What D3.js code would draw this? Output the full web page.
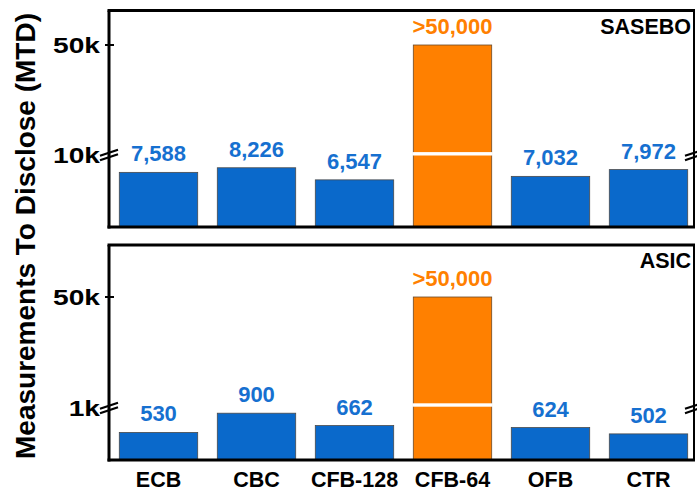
<!DOCTYPE html>
<html>
<head>
<meta charset="utf-8">
<script src="https://cdn.jsdelivr.net/npm/d3@7"></script>
<style>
  html, body { margin: 0; padding: 0; background: #fff; }
  svg { display: block; font-family: "Liberation Sans", Arial, Helvetica, sans-serif; font-weight: bold; }
</style>
</head>
<body>
<svg id="chart" width="697" height="495"></svg>
<script>
// Block cipher modes of operation
const modes = ["ECB", "CBC", "CFB-128", "CFB-64", "OFB", "CTR"];
// Measurements to disclose, per platform
const saseboMTD = [7588, 8226, 6547, 50000, 7032, 7972];
const asicMTD = [530, 900, 662, 50000, 624, 502];
// Modes whose key was not disclosed within the measurement budget
const exceedsBudget = [false, false, false, true, false, false];
// Axis ticks (the first tick of each panel sits on the axis break)
const saseboTicks = [10000, 50000];
const saseboTickLabels = ["10k", "50k"];
const asicTicks = [1000, 50000];
const asicTickLabels = ["1k", "50k"];

const BLUE = "#0a69cb";
const ORANGE = "#ff8000";
const LABEL_BLUE = "#1670d0";

const svg = d3.select("#chart");

const x = d3.scaleBand()
  .domain(modes)
  .range([109.5, 697.5])
  .paddingInner(0.2)
  .paddingOuter(0.1);

const fmt = d3.format(",");

const left = 109, right = 694;

function panel(cfg) {
  const g = svg.append("g");
  // Broken value axis: a lower linear segment below the break and an upper one above it
  const lower = d3.scaleLinear().domain([0, cfg.ticks[0]]).range([cfg.bottom, cfg.breakY]);
  const upper = d3.scaleLinear().domain([cfg.ticks[0], cfg.ticks[1]]).range([cfg.breakY, cfg.topTickY]);
  const y = v => v <= cfg.ticks[0] ? lower(v) : upper(v);

  const rows = modes.map((m, i) => ({ mode: m, value: cfg.values[i], over: exceedsBudget[i] }));

  // bars
  g.selectAll("rect.bar").data(rows).join("rect")
    .attr("class", "bar")
    .attr("x", d => x(d.mode)).attr("width", x.bandwidth())
    .attr("y", d => y(d.value)).attr("height", d => cfg.bottom - y(d.value))
    .attr("fill", d => d.over ? ORANGE : BLUE)
    .attr("stroke", d => d.over ? "#6a4a2a" : "#4a4a4a")
    .attr("stroke-width", 0.8);

  // white cut through bars that cross the break
  g.selectAll("rect.cut").data(rows.filter(d => d.value > cfg.ticks[0])).join("rect")
    .attr("class", "cut")
    .attr("x", d => x(d.mode) - 1).attr("width", x.bandwidth() + 2)
    .attr("y", cfg.breakY - cfg.gapShift - 1.7).attr("height", 3.4)
    .attr("fill", "#fff");

  // value labels
  g.selectAll("text.val").data(rows).join("text")
    .attr("class", "val")
    .attr("x", d => x(d.mode) + x.bandwidth() / 2)
    .attr("y", d => y(d.value) - 11)
    .attr("text-anchor", "middle")
    .attr("font-size", 22)
    .attr("fill", d => d.over ? ORANGE : LABEL_BLUE)
    .text(d => (d.over ? ">" : "") + fmt(d.value));

  // frame
  const line = (x1, y1, x2, y2, w) => g.append("line")
    .attr("x1", x1).attr("y1", y1).attr("x2", x2).attr("y2", y2)
    .attr("stroke", "#000").attr("stroke-width", w);
  line(left - 1.5, cfg.top, right + 1, cfg.top, 3);
  line(right, cfg.top, right, cfg.bottom, 2);
  line(left, cfg.top, left, cfg.bottom + 1.5, 3);
  line(left - 1.5, cfg.bottom, right + 1, cfg.bottom, 3);

  // upper tick
  line(left - 4, upper(cfg.ticks[1]), left + 5, upper(cfg.ticks[1]), 2);

  // break marks on both vertical axes
  [left, right].forEach(ax => {
    [-2.2, 2.2].forEach(off => {
      line(ax - 9, cfg.breakY + off + 3, ax + 9, cfg.breakY + off - 3, 2.2);
    });
  });

  // tick labels
  cfg.ticks.forEach((t, i) => {
    g.append("g")
      .attr("transform", `translate(100,${y(t)}) scale(1.28,1)`)
      .append("text")
      .attr("text-anchor", "end")
      .attr("dy", "0.35em")
      .attr("font-size", 22)
      .attr("fill", "#000")
      .text(cfg.tickLabels[i]);
  });

  // platform name
  g.append("text")
    .attr("x", 691).attr("y", cfg.top + 23)
    .attr("text-anchor", "end")
    .attr("font-size", 21.5)
    .attr("fill", "#000")
    .text(cfg.name);
}

panel({
  name: "SASEBO", values: saseboMTD, ticks: saseboTicks, tickLabels: saseboTickLabels,
  top: 10.5, bottom: 227, breakY: 155, topTickY: 45, gapShift: 1.2
});
panel({
  name: "ASIC", values: asicMTD, ticks: asicTicks, tickLabels: asicTickLabels,
  top: 245, bottom: 460, breakY: 408, topTickY: 297, gapShift: 3
});

// category axis labels
svg.append("g").selectAll("text").data(modes).join("text")
  .attr("x", d => x(d) + x.bandwidth() / 2)
  .attr("y", 486.5)
  .attr("text-anchor", "middle")
  .attr("font-size", 21.5)
  .attr("fill", "#000")
  .text(d => d);

// shared value axis title
svg.append("text")
  .attr("transform", "translate(35,236) rotate(-90)")
  .attr("text-anchor", "middle")
  .attr("font-size", 28)
  .attr("fill", "#000")
  .text("Measurements To Disclose (MTD)");
</script>
</body>
</html>
